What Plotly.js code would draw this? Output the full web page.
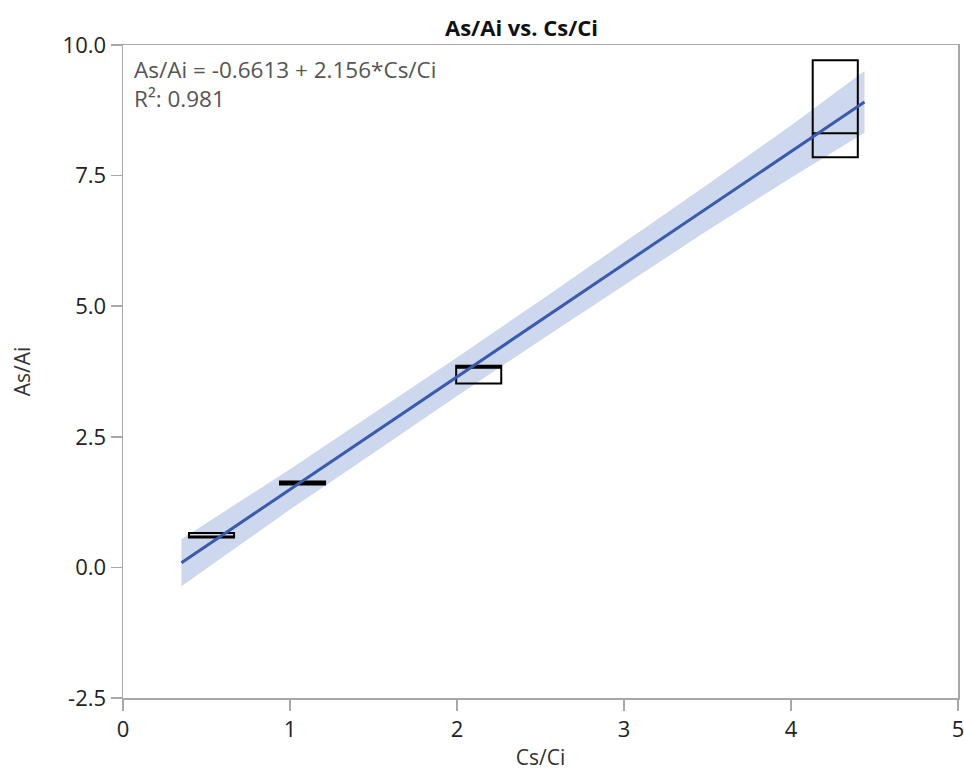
<!DOCTYPE html>
<html>
<head>
<meta charset="utf-8">
<script src="https://cdn.plot.ly/plotly-3.0.1.min.js"></script>
<style>html,body{margin:0;padding:0;background:#fff;}#chart{width:964px;height:778px;}</style>
</head>
<body>
<div id="chart"></div>
<script>
// Box groups (Cs/Ci position, quartiles of As/Ai)
const boxX = [0.53, 1.075, 2.13, 4.265];
const boxQ1 = [0.57, 1.585, 3.52, 7.85];
const boxMedian = [0.57, 1.62, 3.82, 8.31];
const boxQ3 = [0.66, 1.645, 3.86, 9.71];

// Fitted line end points
const fitX = [0.35, 4.44];
const fitY = [0.09, 8.91];

// Confidence band
const bandX = [0.35, 1.0, 1.5, 2.0, 2.5, 3.0, 3.5, 4.0, 4.44];
const bandUpper = [0.54, 1.88, 2.95, 4.02, 5.11, 6.22, 7.33, 8.46, 9.50];
const bandLower = [-0.36, 1.11, 2.19, 3.28, 4.35, 5.40, 6.45, 7.46, 8.32];

const xTicks = [0, 1, 2, 3, 4, 5];
const yTicks = [-2.5, 0, 2.5, 5, 7.5, 10];

const FONT = "Open Sans, Noto Sans, DejaVu Sans, sans-serif";

const traces = [
  {type:'scatter', mode:'lines', x: bandX, y: bandLower, line:{width:0, color:'rgba(0,0,0,0)'}, hoverinfo:'skip', showlegend:false},
  {type:'scatter', mode:'lines', x: bandX, y: bandUpper, line:{width:0, color:'rgba(0,0,0,0)'}, fill:'tonexty', fillcolor:'rgba(164,182,222,0.55)', hoverinfo:'skip', showlegend:false},
  {type:'box', xaxis:'x2', yaxis:'y2', x: boxX, q1: boxQ1, median: boxMedian, q3: boxQ3, lowerfence: boxQ1, upperfence: boxQ3,
   width: 0.27, whiskerwidth: 0, boxpoints: false, fillcolor:'rgba(0,0,0,0)', line:{color:'#000', width:2}, showlegend:false},
  {type:'scatter', mode:'lines', xaxis:'x2', yaxis:'y2', x: fitX, y: fitY, line:{width:3, color:'#3a5aab'}, showlegend:false}
];

const axisCommon = {
  showgrid:false, zeroline:false, showline:true, mirror:true, linecolor:'#a8a8a8', linewidth:1.5,
  ticks:'outside', ticklen:11, tickcolor:'#a8a8a8', tickwidth:1.5, ticklabeloverflow:'allow',
  tickfont:{family:FONT, size:22, color:'#222'}
};

const layout = {
  width:964, height:778,
  margin:{l:123, r:6, t:45, b:80},
  paper_bgcolor:'#fff', plot_bgcolor:'#fff',
  title:{text:'<b>As/Ai vs. Cs/Ci</b>', x:0.541, xanchor:'center', y:0.964, yanchor:'middle',
    font:{family:FONT, size:22, color:'#111'}},
  xaxis: Object.assign({}, axisCommon, {range:[0,5], tickvals:xTicks, ticktext:xTicks.map(String),
    title:{text:'Cs/Ci', font:{family:FONT, size:21, color:'#333'}, standoff:8}}),
  yaxis: Object.assign({}, axisCommon, {range:[-2.5,10], tickvals:yTicks, ticktext:yTicks.map(v=>v.toFixed(1)),
    title:{text:'As/Ai', font:{family:FONT, size:21, color:'#333'}, standoff:26}}),
  xaxis2: {overlaying:'x', range:[0,5], visible:false, showgrid:false, zeroline:false},
  yaxis2: {overlaying:'y', range:[-2.5,10], visible:false, showgrid:false, zeroline:false},
  annotations:[
    {xref:'paper', yref:'paper', x:0.011, y:0.99, xanchor:'left', yanchor:'top', align:'left', showarrow:false,
     text:'As/Ai = -0.6613 + 2.156*Cs/Ci', font:{family:FONT, size:22.5, color:'#555'}},
    {xref:'paper', yref:'paper', x:0.011, y:0.945, xanchor:'left', yanchor:'top', align:'left', showarrow:false,
     text:'R²: 0.981', font:{family:FONT, size:22.5, color:'#555'}}
  ]
};

Plotly.newPlot('chart', traces, layout, {displayModeBar:false, staticPlot:true});
</script>
</body>
</html>
